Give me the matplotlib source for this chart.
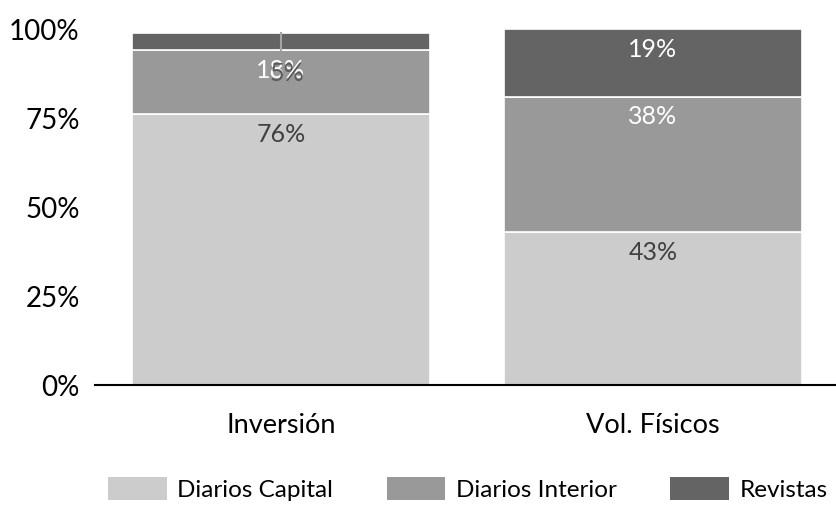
import matplotlib
matplotlib.use("Agg")
import matplotlib.pyplot as plt
from matplotlib.patches import Patch
import numpy as np

plt.rcParams['font.family'] = ['Lato', 'DejaVu Sans']

categories = ["Inversión", "Vol. Físicos"]
series_names = ["Diarios Capital", "Diarios Interior", "Revistas"]
diarios_capital = [76, 43]
diarios_interior = [18, 38]
revistas = [5, 19]
yticks = [0, 25, 50, 75, 100]

colors = ["#CCCCCC", "#999999", "#646464"]
label_colors = ["#404040", "#FFFFFF", "#FFFFFF"]

fig = plt.figure(figsize=(8.37, 5.11), dpi=100)
ax = fig.add_axes([95 / 837, 126 / 511, 744 / 837, 356 / 511])

x = np.arange(len(categories))
bottom = np.zeros(len(categories))
values = [diarios_capital, diarios_interior, revistas]
for vals, name, col, lcol in zip(values, series_names, colors, label_colors):
    vals = np.array(vals, dtype=float)
    ax.bar(x, vals, width=0.8, bottom=bottom, color=col,
           edgecolor="white", linewidth=1.2, label=name)
    tops = bottom + vals
    for xi, top, v in zip(x, tops, vals):
        if name == "Revistas" and categories[xi] == "Inversión":
            # label displaced into the segment below, with a leader line
            lbl_y = tops[xi] - vals[xi]
            ax.plot([xi, xi], [top, lbl_y], color="#A6A6A6", lw=1.5, zorder=3)
            ax.annotate(f"{v:.0f}%", (xi, lbl_y), xytext=(4, -16.5),
                        textcoords="offset points", ha="center", va="center",
                        fontsize=18, color="#595959", zorder=4)
        else:
            ax.annotate(f"{v:.0f}%", (xi, top), xytext=(0, -14.5),
                        textcoords="offset points", ha="center", va="center",
                        fontsize=18, color=lcol, zorder=4)
    bottom = tops

ax.set_xlim(-0.5, 1.5)
ax.set_ylim(0, 100)
ax.set_yticks(yticks)
ax.set_yticklabels([f"{t}%" for t in yticks], fontsize=20)
ax.set_xticks(x)
ax.set_xticklabels(categories, fontsize=19.5)
ax.tick_params(axis="both", length=0, colors="black")
ax.tick_params(axis="y", pad=11)
ax.tick_params(axis="x", pad=20)
for s in ["top", "right", "left"]:
    ax.spines[s].set_visible(False)
ax.spines["bottom"].set_linewidth(1.5)
ax.spines["bottom"].set_color("black")
ax.set_axisbelow(True)

handles = [Patch(facecolor=c, edgecolor="none") for c in colors]
fig.legend(handles, series_names, loc="center", bbox_to_anchor=(468 / 837, 1 - 489 / 511),
           ncol=3, frameon=False, fontsize=17.5, handlelength=2.4, handleheight=1.1,
           handletextpad=0.45, columnspacing=2.2, borderaxespad=0, borderpad=0)

fig.savefig("out.png", dpi=100)
